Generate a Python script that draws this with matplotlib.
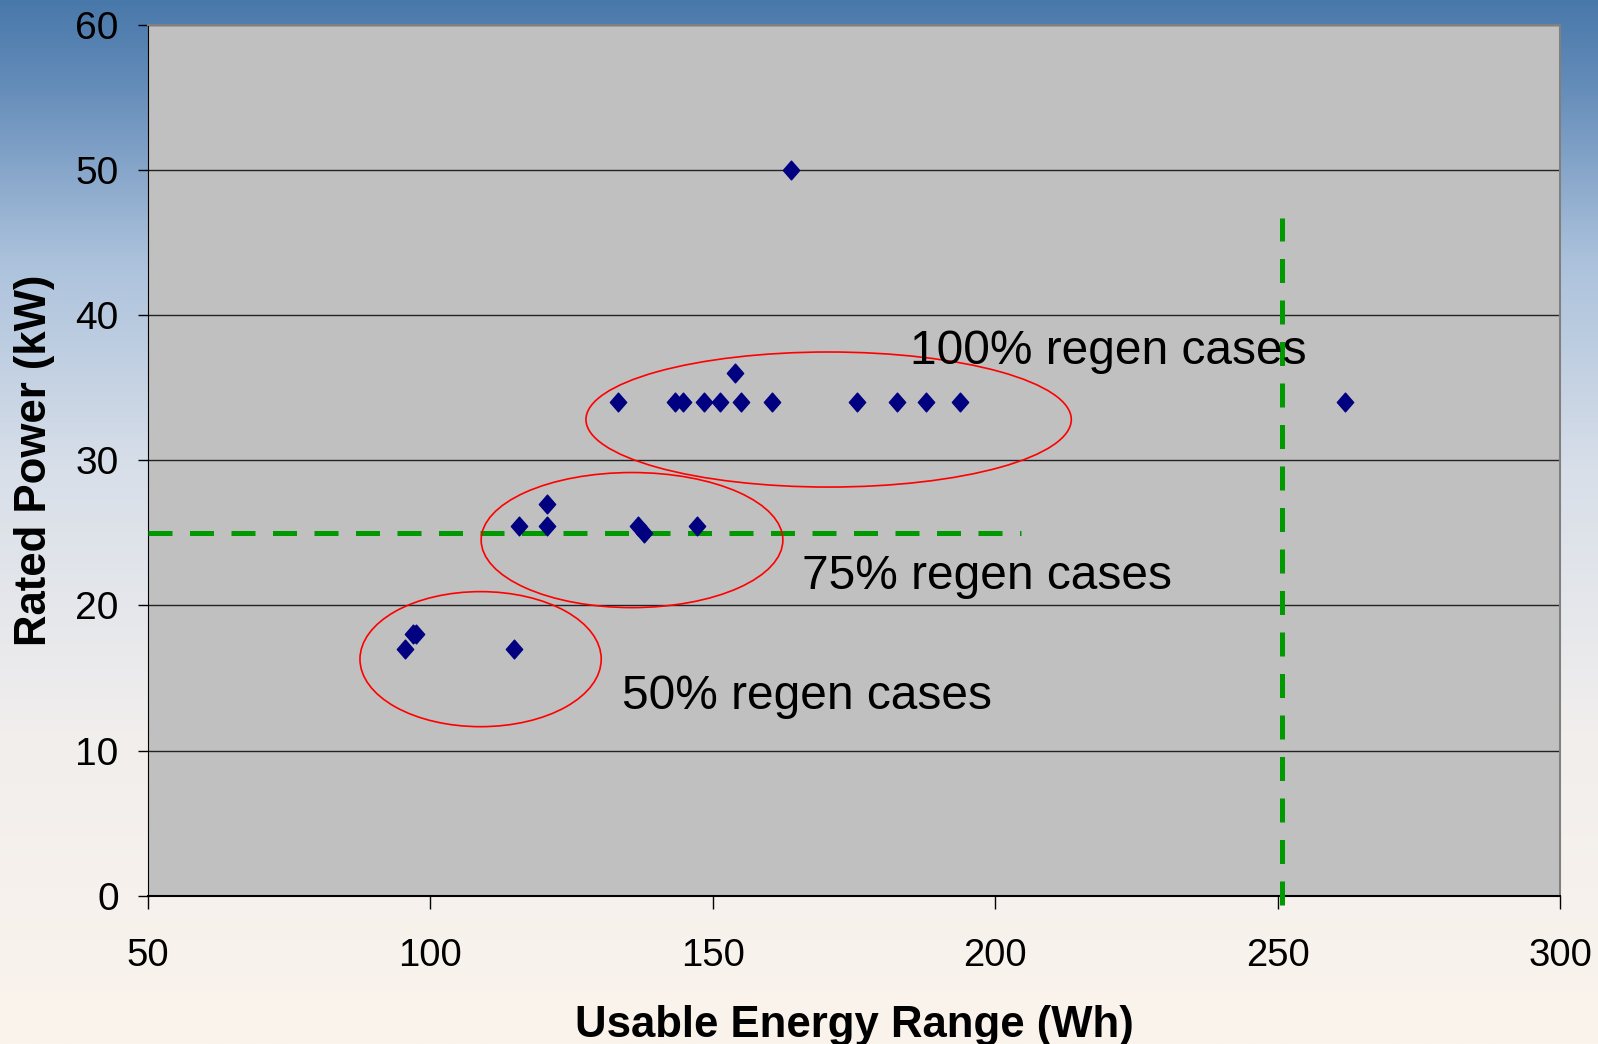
import matplotlib.pyplot as plt
import numpy as np
from matplotlib.patches import Ellipse
from matplotlib.path import Path

plt.rcParams["font.family"] = ["Liberation Sans", "DejaVu Sans"]

# scatter points (Usable Energy Range in Wh, Rated Power in kW)
energy_wh = [95.5, 96.9, 97.4, 114.9,
             115.7, 120.7, 120.7, 136.8, 137.9, 147.2,
             133.3, 143.3, 144.7, 148.5, 151.2, 153.9, 155.0, 160.4,
             175.5, 182.6, 187.8, 193.8,
             163.8, 261.9]
power_kw = [17.0, 18.0, 18.0, 17.0,
            25.5, 27.0, 25.5, 25.5, 25.0, 25.5,
            34.0, 34.0, 34.0, 34.0, 34.0, 36.0, 34.0, 34.0,
            34.0, 34.0, 34.0, 34.0,
            50.0, 34.0]

# regen-case groups: label, ellipse centre / size (data units), label anchor
group_labels = ["50% regen cases", "75% regen cases", "100% regen cases"]
ellipse_x = [108.9, 135.7, 170.5]
ellipse_y = [16.3, 24.5, 32.8]
ellipse_w = [42.7, 53.4, 85.9]
ellipse_h = [9.3, 9.3, 9.3]
label_x = [133.9, 165.8, 184.9]
label_y = [12.9, 21.1, 36.6]

# target lines
power_target = 25
power_target_xmax = 204.5
energy_target = 250.8
energy_target_ymax = 46.7

x_ticks = [50, 100, 150, 200, 250, 300]
y_ticks = [0, 10, 20, 30, 40, 50, 60]

fig = plt.figure(figsize=(15.98, 10.44), dpi=100)

# slide-like background gradient
bg = fig.add_axes([0, 0, 1, 1])
stops = np.array([0.0, 0.08, 0.25, 0.45, 0.70, 1.0])
cols = np.array([
    [72, 120, 170],
    [100, 140, 185],
    [172, 194, 220],
    [216, 223, 233],
    [241, 238, 237],
    [251, 244, 236],
]) / 255.0
yy = np.linspace(0, 1, 400)
grad = np.stack([np.interp(yy, stops, cols[:, i]) for i in range(3)], axis=-1)
img = np.repeat(grad[:, None, :], 50, axis=1)
bg.imshow(img, aspect="auto", extent=[0, 1, 1, 0])
bg.set_axis_off()

ax = fig.add_axes([0.0925, 0.1419, 0.8839, 0.8346])
ax.set_facecolor("#c0c0c0")

diamond = Path([(0, 1), (0.87, 0), (0, -1), (-0.87, 0), (0, 1)],
               [Path.MOVETO, Path.LINETO, Path.LINETO, Path.LINETO, Path.CLOSEPOLY])
ax.plot(energy_wh, power_kw, linestyle="none", marker=diamond, markersize=13.5,
        color="#000080", zorder=4)

for i in range(len(group_labels)):
    ax.add_patch(Ellipse((ellipse_x[i], ellipse_y[i]), ellipse_w[i], ellipse_h[i],
                         fill=False, edgecolor="#ff0000", linewidth=1.2, zorder=5))
    ax.text(label_x[i], label_y[i], group_labels[i], fontsize=34.5,
            ha="left", va="baseline", color="black", zorder=6)

ax.plot([50, power_target_xmax], [power_target, power_target], color="#009900",
        linewidth=3.6, dashes=(4.8, 3.5), zorder=3)
ax.plot([energy_target, energy_target], [-0.6, energy_target_ymax], color="#009900",
        linewidth=3.6, dashes=(4.8, 3.5), zorder=3, clip_on=False)

ax.set_xlim(50, 300)
ax.set_ylim(0, 60)
ax.set_xticks(x_ticks)
ax.set_yticks(y_ticks)
ax.yaxis.grid(True, color="#222222", linewidth=1.0)
ax.set_axisbelow(True)

ax.tick_params(axis="x", direction="out", length=9, width=1, pad=21, labelsize=27.5)
ax.tick_params(axis="y", direction="out", length=7, width=1, pad=14, labelsize=28)

ax.spines["left"].set_color("black")
ax.spines["bottom"].set_color("black")
ax.spines["bottom"].set_linewidth(1.5)
ax.spines["top"].set_color("#808080")
ax.spines["right"].set_color("#808080")
ax.spines["top"].set_linewidth(1.5)
ax.spines["right"].set_linewidth(1.5)

ax.set_xlabel("Usable Energy Range (Wh)", fontsize=31.5, fontweight="bold")
ax.set_ylabel("Rated Power (kW)", fontsize=31.5, fontweight="bold")
ax.xaxis.set_label_coords(0.5, -0.125)
ax.yaxis.set_label_coords(-0.066, 0.5)

fig.savefig("out.png", dpi=100)
